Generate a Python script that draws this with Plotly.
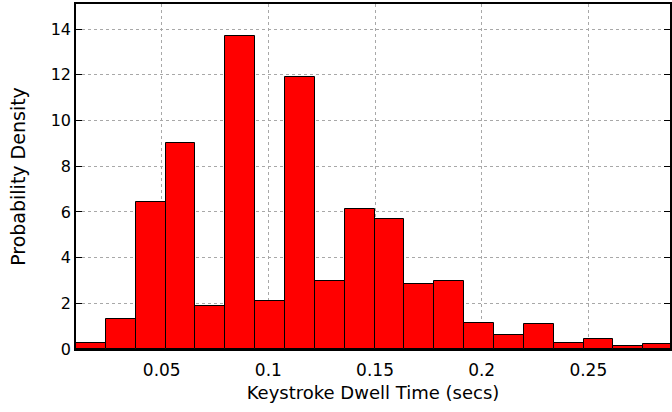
import plotly.graph_objects as go

# Histogram bin edges (seconds) and probability density per bin
bin_width = 0.014
bin_left = [0.0098 + i * bin_width for i in range(20)]
density = [0.28, 1.31, 6.45, 9.03, 1.90, 13.71, 2.12, 11.92, 2.99, 6.13,
           5.69, 2.84, 2.99, 1.14, 0.60, 1.11, 0.26, 0.45, 0.15, 0.21]

x_ticks = [0.05, 0.1, 0.15, 0.2, 0.25]
x_ticktext = ["0.05", "0.1", "0.15", "0.2", "0.25"]
y_ticks = [0, 2, 4, 6, 8, 10, 12, 14]

fig = go.Figure()
fig.add_trace(go.Bar(
    x=bin_left,
    y=density,
    width=[bin_width] * len(density),
    offset=0,
    marker=dict(color="#ff0000", line=dict(color="#000000", width=1)),
    showlegend=False,
))

fig.update_layout(
    width=672,
    height=412,
    margin=dict(l=76, r=0, t=4, b=63),
    paper_bgcolor="white",
    plot_bgcolor="white",
    bargap=0,
    font=dict(family="DejaVu Sans", color="#000000"),
)

fig.update_xaxes(
    range=[0.0098, 0.2883],
    tickvals=x_ticks,
    ticktext=x_ticktext,
    tickfont=dict(family="DejaVu Sans", size=17),
    ticklabelstandoff=5,
    showgrid=True,
    gridcolor="#a8a8a8",
    griddash="dot",
    gridwidth=1,
    showline=True,
    linecolor="#000000",
    linewidth=1.5,
    mirror=True,
    ticks="",
    zeroline=False,
    title=dict(text="Keystroke Dwell Time (secs)",
               font=dict(family="DejaVu Sans", size=18), standoff=7),
)

fig.update_yaxes(
    range=[0, 15.1],
    tickvals=y_ticks,
    tickfont=dict(family="DejaVu Sans", size=16),
    showgrid=True,
    gridcolor="#a8a8a8",
    griddash="dot",
    gridwidth=1,
    showline=True,
    linecolor="#000000",
    linewidth=1.5,
    mirror="ticks",
    ticks="inside",
    ticklen=6,
    tickcolor="#000000",
    zeroline=False,
    title=dict(text="Probability Density",
               font=dict(family="DejaVu Sans", size=19), standoff=20),
)

fig.write_html("out.html")
